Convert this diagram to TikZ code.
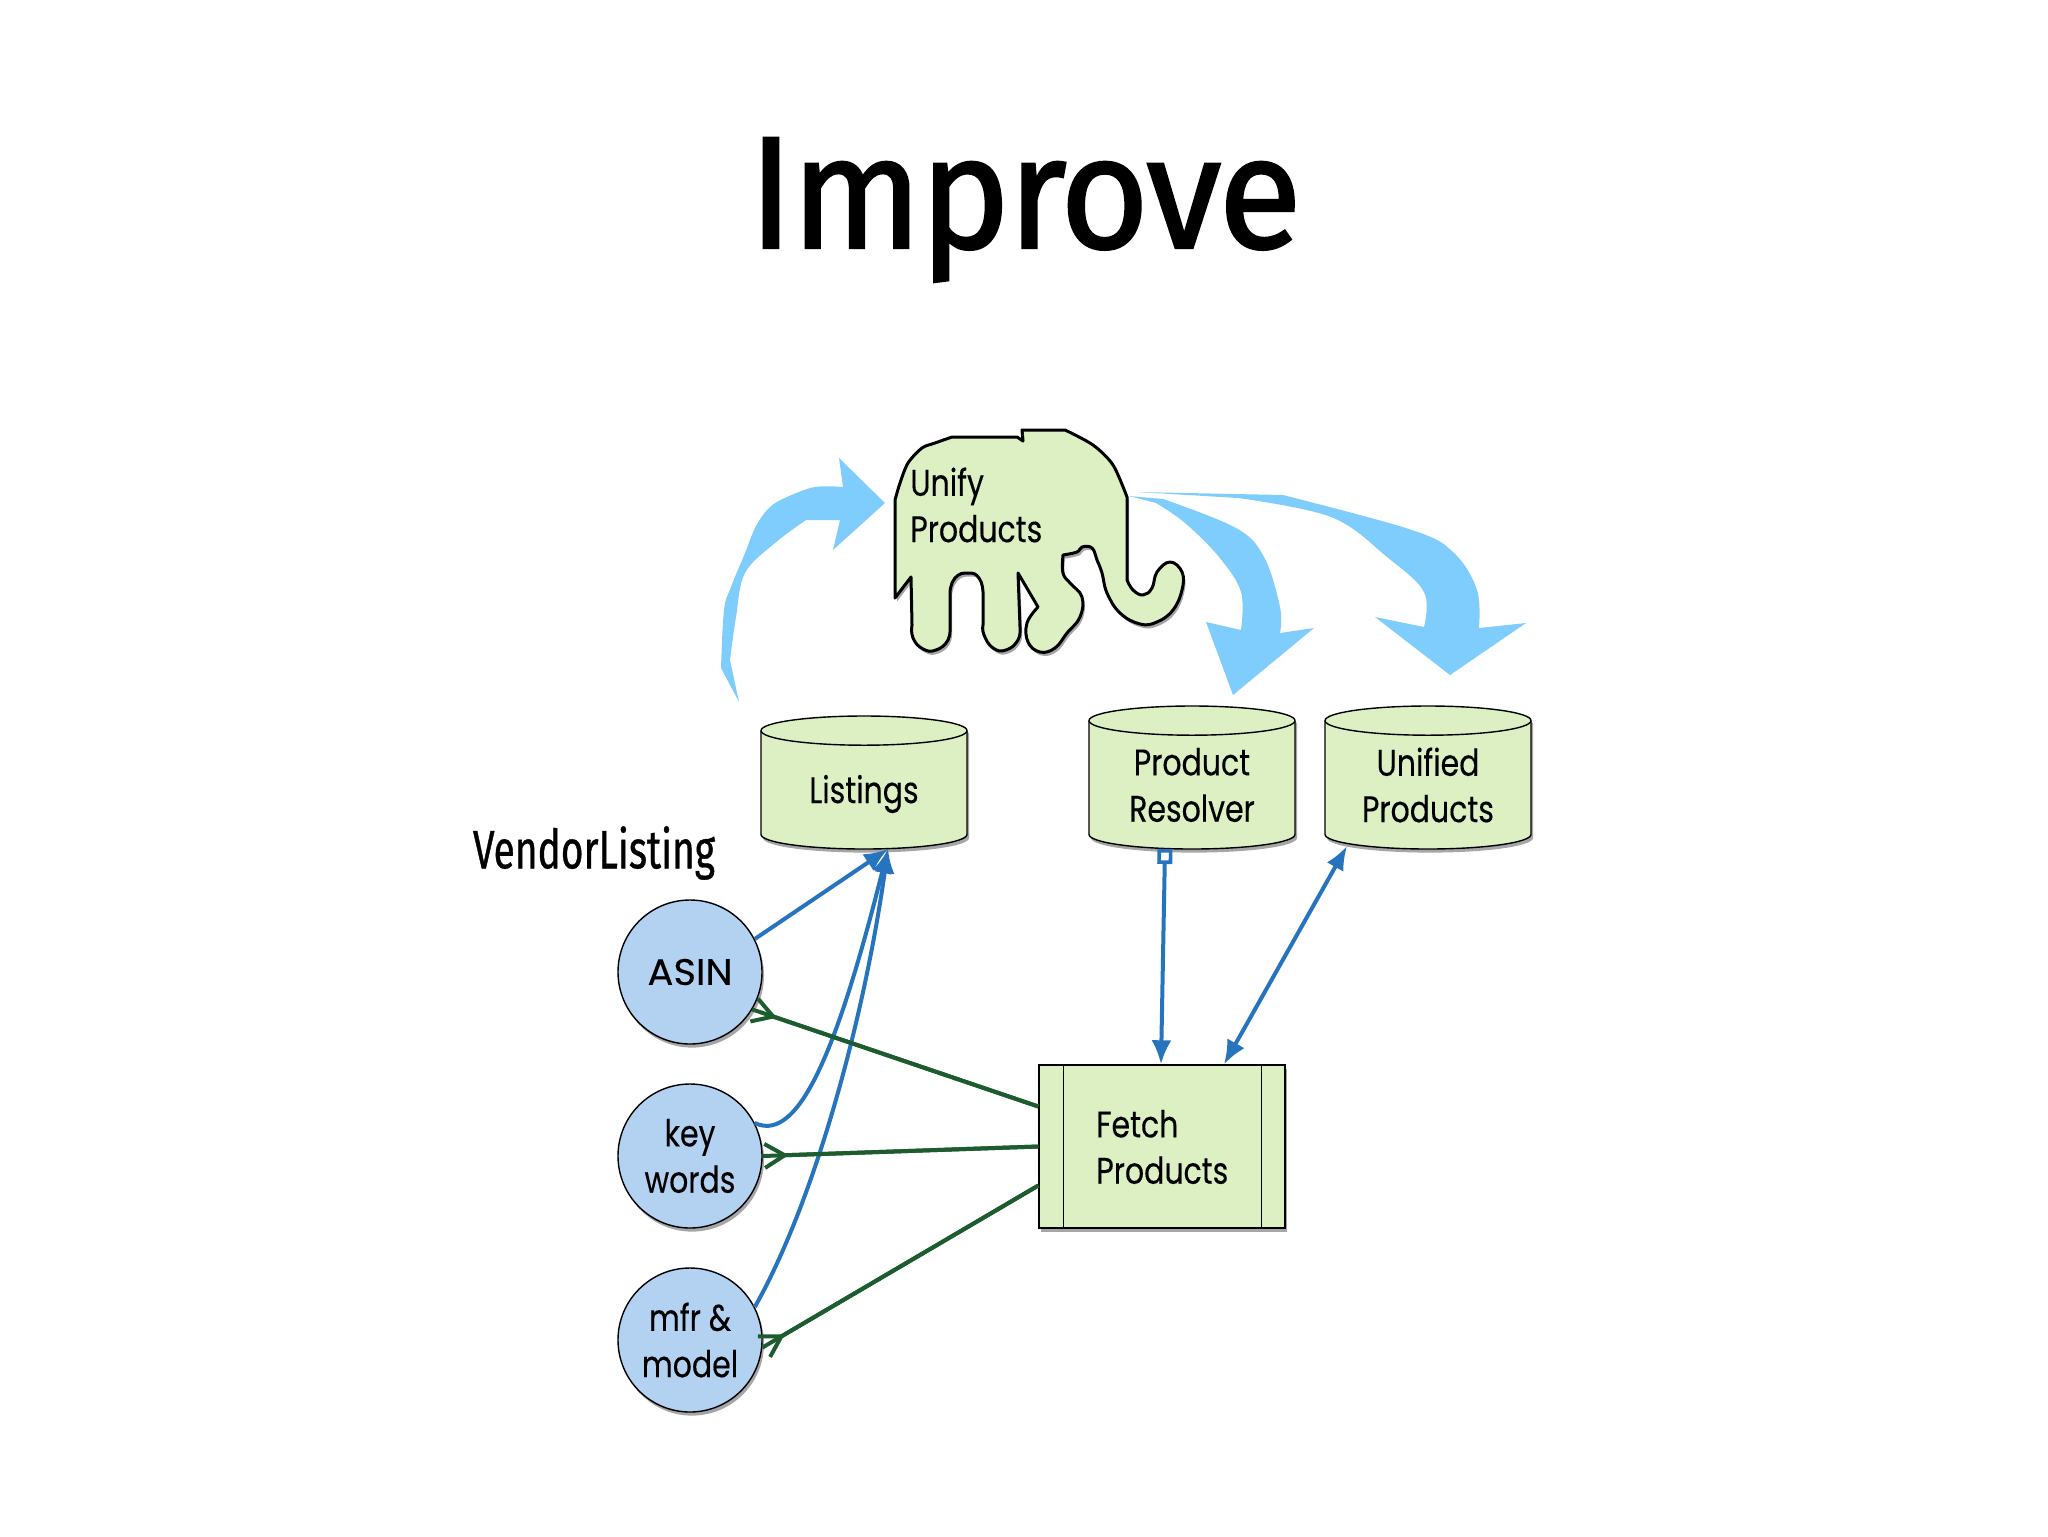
\documentclass[tikz,border=0pt]{standalone}
\usepackage{fontspec}
\usetikzlibrary{shapes.geometric,arrows.meta,shadows}
\newfontfamily\bodyf[FakeStretch=0.81,FakeBold=0.25]{Poppins}
\newfontfamily\capsf[FakeStretch=1.04,FakeBold=0.25]{Poppins}
\newfontfamily\titlef[FakeBold=1.4,FakeStretch=0.955,LetterSpace=-1.5]{Fira Sans}
\newfontfamily\vendorf[FakeStretch=0.72,FakeBold=0.7]{Fira Sans}
\definecolor{nodegreen}{HTML}{DDF0C3}
\definecolor{nodeblue}{HTML}{B3D1F0}
\definecolor{flowblue}{HTML}{7FCDFD}
\definecolor{lineblue}{HTML}{2673BE}
\definecolor{linegreen}{HTML}{1C5C2E}
\tikzset{
  softshadow/.style={drop shadow={shadow xshift=1pt,shadow yshift=-1.8pt,opacity=.35,fill=black}},
  bodytext/.style={font=\bodyf\fontsize{18.5}{23.2}\selectfont,text=black,inner sep=0pt,align=center},
  store/.style={rectangle,draw=none,minimum width=103pt,inner sep=0pt,outer sep=0pt},
  storebody/.style={draw=black,line width=.7pt,fill=nodegreen,softshadow},
  storerim/.style={draw=black,line width=.7pt},
  attr/.style={circle,draw=black,line width=.7pt,fill=nodeblue,minimum size=72pt,inner sep=0pt,softshadow,bodytext},
  processbox/.style={rectangle,draw=black,line width=.7pt,fill=nodegreen,minimum width=123pt,minimum height=81.5pt,softshadow},
  elephantshape/.style={draw=black,line width=1.5pt,fill=nodegreen,line join=round,softshadow},
  flow/.style={fill=flowblue,draw=none},
  bluelink/.style={draw=lineblue,line width=2pt,-{Latex[length=12pt,width=10pt]}},
  greenlink/.style={draw=linegreen,line width=2pt},
  crow/.style={draw=linegreen,line width=2pt,{Straight Barb[reversed,length=10pt,width=12pt,line width=2pt]}-},
}
% cylinder drawn round a named rectangle node
\newcommand{\storedrum}[1]{%
  \path[storebody] ([yshift=-7.3pt]#1.north west)
     arc[start angle=180,end angle=0,x radius=51.5pt,y radius=7.3pt]
     -- ([yshift=7.3pt]#1.south east)
     arc[start angle=0,end angle=-180,x radius=51.5pt,y radius=7.3pt]
     -- cycle;
  \path[storerim] ([yshift=-7.3pt]#1.north west)
     arc[start angle=180,end angle=360,x radius=51.5pt,y radius=7.3pt];
}
\begin{document}
\begin{tikzpicture}[x=.5pt,y=-.5pt]
\useasboundingbox (0,0) rectangle (2048,1536);
\node[font=\titlef\fontsize{80}{84}\selectfont,inner sep=0pt,anchor=base] (title) at (1025,248) {Improve};
% big flows
\fill[flow] (885,503)--(839,458)--(843,487)
  -- plot[smooth,tension=.6] coordinates {(843,487) (815,487) (787,497) (770,507) (756,526) (745,553) (731,587) (724,610) (721,668)}
  --(739,702)--
  plot[smooth,tension=.6] coordinates {(730,660) (736,617) (745,573) (775,543) (806,520)}
  --(840,520)--(833,550)--cycle;
\fill[flow] (1129,496)--(1163,499)
  -- plot[smooth,tension=.6] coordinates {(1163,499) (1236,528) (1264,557) (1280,607) (1280,633)}
  --(1314,628)--(1233,695)--(1206,622)--(1241,630)
  -- plot[smooth,tension=.6] coordinates {(1241,630) (1241,592) (1219,557) (1185,523) (1156,503)}
  --cycle;
\fill[flow] (1137,492)--(1283,495)
  -- plot[smooth,tension=.6] coordinates {(1283,495) (1412,530) (1454,553) (1477,590) (1479,628)}
  --(1526,623)--(1450,675)--(1375,617)--(1424,627)
  -- plot[smooth,tension=.6] coordinates {(1424,627) (1424,592) (1387,557) (1331,517) (1238,498)}
  --cycle;
% elephant
\path[elephantshape]
  (1022,430) -- (1065,430)
  -- plot[smooth,tension=.5] coordinates {(1065,430) (1093,445) (1113,465) (1127,497)}
  -- (1127,580)
  -- plot[smooth,tension=.7] coordinates {(1127,580) (1133,590) (1143,595) (1152,588) (1157,572) (1170,562) (1182,572) (1182,590) (1173,610) (1157,622) (1140,624) (1120,613) (1107,593) (1102,573) (1097,560) (1092,548) (1082,547) (1077,552) (1063,555)}
  -- plot[smooth,tension=.7] coordinates {(1063,555) (1063,573) (1070,583) (1082,597) (1080,617) (1067,633) (1055,648) (1040,652) (1028,642) (1027,623) (1038,607)}
  -- (1018,573) -- (1020,627)
  -- plot[smooth,tension=.8] coordinates {(1020,627) (1018,640) (1006,650) (993,648) (984,635) (983,625)}
  -- (983,592)
  -- plot[smooth,tension=.9] coordinates {(983,592) (979,578) (968,573) (955,578) (950,592)}
  -- (950,625)
  -- plot[smooth,tension=.8] coordinates {(950,625) (948,640) (936,650) (923,649) (913,638) (912,625)}
  -- (911,577) -- (895,598) -- (895,500)
  -- plot[smooth,tension=.5] coordinates {(895,500) (900,483) (908,463) (922,448) (935,443) (952,437)}
  -- (1017,437) -- (1023,441) -- cycle;
\node[bodytext,align=left,anchor=west] (unify) at (910,505) {Unify\\Products};
% stores
\node[store,minimum height=66.5pt] (listings) at (864,782.5) {};
\node[store,minimum height=71.5pt] (resolver) at (1192,777.5) {};
\node[store,minimum height=71.5pt] (unified) at (1428,777.5) {};
\storedrum{listings}
\storedrum{resolver}
\storedrum{unified}
\node[bodytext] (listingslabel) at (864,794) {Listings};
\node[bodytext] (resolverlabel) at (1192,785) {Product\\Resolver};
\node[bodytext] (unifiedlabel) at (1428,785) {Unified\\Products};
% vendor label
\node[font=\vendorf\fontsize{27}{30}\selectfont,inner sep=0pt] (vendor) at (594,853) {VendorListing};
% attributes
\node[attr,font=\capsf\fontsize{18.5}{23.2}\selectfont] (asin) at (690,972) {ASIN};
\node[attr] (keywords) at (690,1156) {key\\words};
\node[attr] (mfr) at (690,1340) {mfr \&\\model};
% fetch
\node[processbox] (fetch) at (1162,1146.5) {};
\draw[line width=.7pt] ([xshift=12.5pt]fetch.north west) -- ([xshift=12.5pt]fetch.south west);
\draw[line width=.7pt] ([xshift=-12pt]fetch.north east) -- ([xshift=-12pt]fetch.south east);
\node[bodytext,align=left,anchor=west] (fetchtext) at (1096,1147) {Fetch\\Products};
% blue links
\draw[bluelink] (asin.27) -- ([xshift=12pt]listings.south);
\draw[bluelink] (keywords.27) .. controls +(23pt,-11pt) and +(-24pt,-95pt) .. ([xshift=12pt]listings.south);
\draw[bluelink] (mfr.27) .. controls +(30pt,53pt) and +(-12pt,-85pt) .. ([xshift=12pt]listings.south);
\draw[bluelink,{Square[open,fill=white,length=7.5pt,width=7.5pt,line width=1.8pt]}-{Latex[length=12pt,width=10pt]}] ([xshift=-13.5pt]resolver.south) -- ([xshift=-.5pt]fetch.north);
\draw[bluelink,{Latex[length=12pt,width=9.5pt]}-{Latex[length=12pt,width=10pt]}] ([xshift=-40.5pt,yshift=1.5pt]unified.south) -- ([xshift=31pt]fetch.north);
% green links
\draw[greenlink] (asin.-31) -- ([yshift=20pt]fetch.west);
\draw[crow] (asin.-31) -- ([yshift=20pt]fetch.west);
\draw[greenlink] (keywords.0) -- (fetch.west);
\draw[crow] (keywords.0) -- (fetch.west);
\draw[greenlink] (mfr.-6) -- ([yshift=-19.5pt]fetch.west);
\draw[crow] (mfr.-6) -- ([yshift=-19.5pt]fetch.west);
\end{tikzpicture}
\end{document}
